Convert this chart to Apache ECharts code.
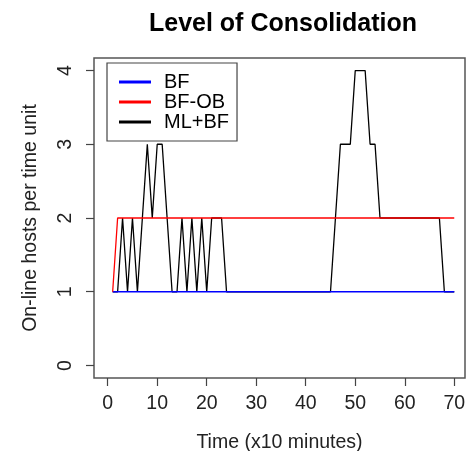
<!DOCTYPE html>
<html>
<head>
<meta charset="utf-8">
<script src="https://cdn.jsdelivr.net/npm/echarts@6/dist/echarts.min.js"></script>
<style>
  html, body { margin: 0; padding: 0; background: #fff; }
  #chart { width: 466px; height: 451px; }
</style>
</head>
<body>
<div id="chart"></div>
<script>
// Time steps (x10 minutes)
const timeSteps = [];
for (let t = 1; t <= 70; t++) timeSteps.push(t);

// On-line hosts per time unit for each policy
const hostsBF = [
  1,1,1,1,1,1,1,1,1,1, 1,1,1,1,1,1,1,1,1,1,
  1,1,1,1,1,1,1,1,1,1, 1,1,1,1,1,1,1,1,1,1,
  1,1,1,1,1,1,1,1,1,1, 1,1,1,1,1,1,1,1,1,1,
  1,1,1,1,1,1,1,1,1,1
];
const hostsBFOB = [
  1,2,2,2,2,2,2,2,2,2, 2,2,2,2,2,2,2,2,2,2,
  2,2,2,2,2,2,2,2,2,2, 2,2,2,2,2,2,2,2,2,2,
  2,2,2,2,2,2,2,2,2,2, 2,2,2,2,2,2,2,2,2,2,
  2,2,2,2,2,2,2,2,2,2
];
const hostsMLBF = [
  1,1,2,1,2,1,2,3,2,3, 3,2,1,1,2,1,2,1,2,1,
  2,2,2,1,1,1,1,1,1,1, 1,1,1,1,1,1,1,1,1,1,
  1,1,1,1,1,2,3,3,3,4, 4,4,3,3,2,2,2,2,2,2,
  2,2,2,2,2,2,2,1,1,1
];

const xTicks = [0, 10, 20, 30, 40, 50, 60, 70];
const yTicks = [0, 1, 2, 3, 4];

const seriesNames = ['BF', 'BF-OB', 'ML+BF'];
const seriesColors = ['#0000ff', '#ff0000', '#000000'];
const seriesValues = [hostsBF, hostsBFOB, hostsMLBF];

const font = 'Liberation Sans, Arial, Helvetica, sans-serif';

const chart = echarts.init(document.getElementById('chart'), null, { renderer: 'canvas' });

const series = seriesNames.map((name, i) => ({
  name: name,
  type: 'line',
  data: timeSteps.map((t, k) => [t, seriesValues[i][k]]),
  showSymbol: false,
  symbol: 'none',
  animation: false,
  z: name === 'ML+BF' ? 2 : 3,
  lineStyle: { color: seriesColors[i], width: 1.3 },
  itemStyle: { color: seriesColors[i] }
}));

chart.setOption({
  backgroundColor: '#fff',
  animation: false,
  title: {
    text: 'Level of Consolidation',
    left: 278,
    top: 7,
    textAlign: 'center',
    textStyle: { fontFamily: font, fontSize: 25, fontWeight: 'bold', color: '#000' }
  },
  legend: {
    data: seriesNames.map(n => ({ name: n, icon: 'rect' })),
    orient: 'vertical',
    left: 107,
    top: 63,
    itemWidth: 32,
    itemHeight: 3,
    itemGap: 0,
    padding: [9, 8, 9, 12],
    borderColor: '#444',
    borderWidth: 1.2,
    backgroundColor: '#fff',
    selectedMode: false,
    textStyle: {
      fontFamily: font, fontSize: 20, color: '#000',
      lineHeight: 18.5, padding: [0, 0, 0, 8]
    }
  },
  grid: {
    left: 94, top: 58, width: 371, height: 320,
    show: true, borderColor: '#555', borderWidth: 1.5,
    containLabel: false,
    outerBoundsMode: 'none'
  },
  xAxis: {
    type: 'value',
    min: -2.77,
    max: 72.17,
    name: 'Time (x10 minutes)',
    nameLocation: 'middle',
    nameGap: 55,
    nameTextStyle: { fontFamily: font, fontSize: 19.5, color: '#222' },
    axisLine: { show: false, onZero: false },
    splitLine: { show: false },
    axisTick: {
      show: true, inside: false, length: 8,
      customValues: xTicks,
      lineStyle: { color: '#444', width: 1.2 }
    },
    axisLabel: {
      customValues: xTicks,
      margin: 16,
      fontFamily: font, fontSize: 19.5, color: '#222'
    }
  },
  yAxis: {
    type: 'value',
    min: -0.17,
    max: 4.17,
    name: 'On-line hosts per time unit',
    nameLocation: 'middle',
    nameGap: 53,
    nameRotate: 90,
    nameTextStyle: { fontFamily: font, fontSize: 19.5, color: '#222' },
    axisLine: { show: false, onZero: false },
    splitLine: { show: false },
    axisTick: {
      show: true, inside: false, length: 8,
      customValues: yTicks,
      lineStyle: { color: '#444', width: 1.2 }
    },
    axisLabel: {
      customValues: yTicks,
      rotate: 90,
      margin: 18,
      fontFamily: font, fontSize: 19.5, color: '#222'
    }
  },
  series: series
});
</script>
</body>
</html>
